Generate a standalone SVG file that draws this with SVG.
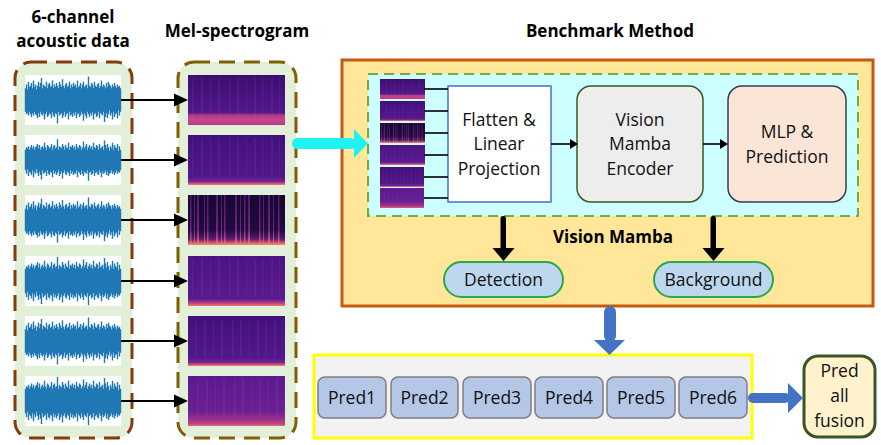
<svg xmlns="http://www.w3.org/2000/svg" xmlns:xlink="http://www.w3.org/1999/xlink" width="881" height="445" viewBox="0 0 881 445">
<style>
.title{font-family:"Open Sans","Liberation Sans",sans-serif;font-weight:bold;font-size:17px;fill:#000;text-anchor:middle}
.lbl{font-family:"Open Sans","Liberation Sans",sans-serif;font-size:17.5px;fill:#111;text-anchor:middle}
.wave{fill:none;stroke:#1f77b4;stroke-width:1.4}
.panel{fill:#fff}
.conn{stroke:#000;stroke-width:2;fill:none}
.thin{stroke:#000;stroke-width:1.6;fill:none}
.head{fill:#000}
.pred rect{fill:#b4c7e7;stroke:#7f7f7f;stroke-width:1.5}
.pill{fill:#bdd7ee;stroke:#2aa84a;stroke-width:2}
.faint{fill:#c070c8;opacity:0.1}
</style>
<defs>
<linearGradient id="g1" x1="0" y1="0" x2="0" y2="1">
<stop offset="0" stop-color="#3d0e6e"/><stop offset="0.6" stop-color="#4d1589"/><stop offset="0.76" stop-color="#56188b"/><stop offset="0.8" stop-color="#b03a8a"/><stop offset="0.9" stop-color="#c8468b"/><stop offset="1" stop-color="#b23b88"/>
</linearGradient>
<linearGradient id="g2" x1="0" y1="0" x2="0" y2="1">
<stop offset="0" stop-color="#42107a"/><stop offset="0.84" stop-color="#51188c"/><stop offset="0.93" stop-color="#7a2590"/><stop offset="0.97" stop-color="#d0507a"/><stop offset="1" stop-color="#f7845c"/>
</linearGradient>
<linearGradient id="g3" x1="0" y1="0" x2="0" y2="1">
<stop offset="0" stop-color="#16082f"/><stop offset="0.7" stop-color="#200b42"/><stop offset="0.88" stop-color="#5a1a70"/><stop offset="0.95" stop-color="#d0506f"/><stop offset="1" stop-color="#fa9060"/>
</linearGradient>
<linearGradient id="g4" x1="0" y1="0" x2="0" y2="1">
<stop offset="0" stop-color="#4a1482"/><stop offset="0.86" stop-color="#5a1a90"/><stop offset="0.94" stop-color="#b8407f"/><stop offset="1" stop-color="#f07a62"/>
</linearGradient>
<linearGradient id="g6" x1="0" y1="0" x2="0" y2="1">
<stop offset="0" stop-color="#5a1a90"/><stop offset="0.7" stop-color="#6a2092"/><stop offset="0.86" stop-color="#9a3090"/><stop offset="0.95" stop-color="#c0447f"/><stop offset="1" stop-color="#e06a6a"/>
</linearGradient>
<linearGradient id="gs" x1="0" y1="0" x2="0" y2="1">
<stop offset="0" stop-color="#5b1d7e"/><stop offset="0.7" stop-color="#8a2a88"/><stop offset="1" stop-color="#f08a68"/>
</linearGradient>
<g id="fst">
<rect class="faint" x="4" y="3" width="1.5" height="38"/><rect class="faint" x="13" y="3" width="2" height="38"/><rect class="faint" x="22" y="3" width="1" height="38"/><rect class="faint" x="30" y="3" width="2" height="38"/><rect class="faint" x="41" y="3" width="1.5" height="38"/><rect class="faint" x="49" y="3" width="2" height="38"/><rect class="faint" x="58" y="3" width="1" height="38"/><rect class="faint" x="66" y="3" width="2" height="38"/><rect class="faint" x="74" y="3" width="1.5" height="38"/><rect class="faint" x="83" y="3" width="2" height="38"/><rect class="faint" x="91" y="3" width="1" height="38"/>
</g>
<symbol id="s1" viewBox="0 0 97 50" preserveAspectRatio="none"><rect width="97" height="50" fill="url(#g1)"/><use xlink:href="#fst"/></symbol>
<symbol id="s2" viewBox="0 0 97 50" preserveAspectRatio="none"><rect width="97" height="50" fill="url(#g2)"/><use xlink:href="#fst"/></symbol>
<symbol id="s3" viewBox="0 0 97 50" preserveAspectRatio="none"><rect width="97" height="50" fill="url(#g3)"/>
<g fill="url(#gs)" opacity="0.8"><rect x="2" y="0" width="1.5" height="50"/><rect x="6" y="0" width="1" height="50"/><rect x="9" y="0" width="2" height="50"/><rect x="16" y="0" width="1" height="50"/><rect x="19" y="0" width="1.5" height="50"/><rect x="28" y="0" width="2" height="50"/><rect x="33" y="0" width="1" height="50"/><rect x="36" y="0" width="1.5" height="50"/><rect x="47" y="0" width="2" height="50"/><rect x="52" y="0" width="1" height="50"/><rect x="56" y="0" width="1.5" height="50"/><rect x="60" y="0" width="2" height="50"/><rect x="71" y="0" width="1.5" height="50"/><rect x="75" y="0" width="1" height="50"/><rect x="80" y="0" width="2" height="50"/><rect x="85" y="0" width="1" height="50"/><rect x="90" y="0" width="1.5" height="50"/></g></symbol>
<symbol id="s4" viewBox="0 0 97 50" preserveAspectRatio="none"><rect width="97" height="50" fill="url(#g4)"/><use xlink:href="#fst"/></symbol>
<symbol id="s5" viewBox="0 0 97 50" preserveAspectRatio="none"><rect width="97" height="50" fill="url(#g2)"/><use xlink:href="#fst" x="3"/></symbol>
<symbol id="s6" viewBox="0 0 97 50" preserveAspectRatio="none"><rect width="97" height="50" fill="url(#g6)"/><use xlink:href="#fst" x="5"/></symbol>
<path id="wv" class="wave" d="M0 16v18M1 13v23M2 17v18M3 11v26M4 15v19M5 14v22M6 12v26M7 16v19M8 10v27M9 15v19M10 13v23M11 17v20M12 14v25M13 11v24M14 15v23M15 12v22M16 8v28M17 16v21M18 13v22M19 14v26M20 15v21M21 11v23M22 16v22M23 13v24M24 12v23M25 15v21M26 14v25M27 10v24M28 16v21M29 13v25M30 15v20M31 12v24M32 14v29M33 16v18M34 11v26M35 13v23M36 15v20M37 9v30M38 14v23M39 16v18M40 13v25M41 12v24M42 15v20M43 14v26M44 11v23M45 16v21M46 13v23M47 15v23M48 12v23M49 14v23M50 13v21M51 16v23M52 10v26M53 15v20M54 14v24M55 12v25M56 16v18M57 13v23M58 11v30M59 15v20M60 14v23M61 13v26M62 16v18M63 7v29M64 14v24M65 15v20M66 12v25M67 13v21M68 16v24M69 11v25M70 14v21M71 15v23M72 13v24M73 12v22M74 16v23M75 14v21M76 10v26M77 15v22M78 13v21M79 14v28M80 16v22M81 12v23M82 15v24M83 11v25M84 13v20M85 14v23M86 16v19M87 13v27M88 15v19M89 12v26M90 14v22M91 16v19M92 13v26M93 15v18M94 14v23M95 16v18"/>
</defs>

<g id="titles">
<text class="title" x="73" y="23">6-channel</text>
<text class="title" x="73" y="47">acoustic data</text>
<text class="title" x="237" y="37">Mel-spectrogram</text>
<text class="title" x="610" y="37">Benchmark Method</text>
</g>

<g id="acoustic-data">
<rect x="15" y="62" width="117" height="376" rx="16" fill="#e2efd9" stroke="#843c0c" stroke-width="3" stroke-dasharray="16 9"/>
<rect class="panel" x="25" y="75" width="96" height="50"/>
<rect class="panel" x="25" y="135" width="96" height="50"/>
<rect class="panel" x="25" y="195" width="96" height="50"/>
<rect class="panel" x="25" y="256" width="96" height="50"/>
<rect class="panel" x="25" y="316" width="96" height="50"/>
<rect class="panel" x="25" y="376" width="96" height="50"/>
<use xlink:href="#wv" transform="translate(25.5,100) scale(1,1.3) translate(0,-25)"/>
<use xlink:href="#wv" transform="translate(120.5,160) scale(-1,1.15) translate(0,-25)"/>
<use xlink:href="#wv" transform="translate(25.5,220) scale(1,1.25) translate(0,-25)"/>
<use xlink:href="#wv" transform="translate(120.5,281) scale(-1,1.35) translate(0,-25)"/>
<use xlink:href="#wv" transform="translate(25.5,341) scale(1,1.3) translate(0,-25)"/>
<use xlink:href="#wv" transform="translate(120.5,401) scale(-1,1.35) translate(0,-25)"/>
</g>

<g id="mel-spectrogram">
<rect x="178" y="62" width="118" height="376" rx="16" fill="#e2efd9" stroke="#7f6000" stroke-width="3" stroke-dasharray="16 9"/>
<use xlink:href="#s1" x="188" y="75" width="97" height="50"/>
<use xlink:href="#s2" x="188" y="135" width="97" height="50"/>
<use xlink:href="#s3" x="188" y="195" width="97" height="50"/>
<use xlink:href="#s4" x="188" y="256" width="97" height="50"/>
<use xlink:href="#s5" x="188" y="316" width="97" height="50"/>
<use xlink:href="#s6" x="188" y="376" width="97" height="50"/>
</g>

<g id="benchmark-method">
<rect x="342" y="60" width="531" height="246" fill="#ffe699" stroke="#c55a11" stroke-width="3"/>
<rect x="368" y="74" width="490" height="142" fill="#ccffff" stroke="#70ad47" stroke-width="2" stroke-dasharray="10 6"/>
<text class="title" x="613" y="243">Vision Mamba</text>
</g>

<g id="patches">
<use xlink:href="#s1" x="380" y="79" width="45" height="20"/>
<use xlink:href="#s2" x="380" y="101" width="45" height="20"/>
<use xlink:href="#s3" x="380" y="123" width="45" height="20"/>
<use xlink:href="#s4" x="380" y="145" width="45" height="20"/>
<use xlink:href="#s5" x="380" y="167" width="44" height="20"/>
<use xlink:href="#s6" x="380" y="188" width="44" height="20"/>
</g>

<g id="flatten">
<rect x="448" y="86" width="103" height="116" fill="#fff" stroke="#4472c4" stroke-width="1.5"/>
<text class="lbl" x="499" y="126">Flatten &amp;</text>
<text class="lbl" x="499" y="150">Linear</text>
<text class="lbl" x="499" y="175">Projection</text>
</g>

<g id="encoder">
<rect x="577" y="86" width="126" height="116" rx="14" fill="#ededed" stroke="#385723" stroke-width="1.5"/>
<text class="lbl" x="640" y="126">Vision</text>
<text class="lbl" x="640" y="150">Mamba</text>
<text class="lbl" x="640" y="175">Encoder</text>
</g>

<g id="mlp">
<rect x="728" y="86" width="118" height="116" rx="14" fill="#fbe5d6" stroke="#333f50" stroke-width="1.5"/>
<text class="lbl" x="787" y="138">MLP &amp;</text>
<text class="lbl" x="787" y="163">Prediction</text>
</g>

<g id="detection">
<rect class="pill" x="444" y="262" width="119" height="35" rx="17.5"/>
<text class="lbl" x="503.5" y="286">Detection</text>
</g>
<g id="background">
<rect class="pill" x="654" y="262" width="119" height="35" rx="17.5"/>
<text class="lbl" x="713.5" y="286">Background</text>
</g>

<g id="predictions">
<rect x="314" y="355" width="438" height="83" fill="#f2f2f2" stroke="#ffff00" stroke-width="3"/>
<g class="pred">
<rect x="318" y="377" width="68" height="41" rx="7"/>
<rect x="391" y="377" width="67" height="41" rx="7"/>
<rect x="463" y="377" width="68" height="41" rx="7"/>
<rect x="535" y="377" width="68" height="41" rx="7"/>
<rect x="607" y="377" width="68" height="41" rx="7"/>
<rect x="679" y="377" width="68" height="41" rx="7"/>
</g>
<text class="lbl" x="352" y="404">Pred1</text>
<text class="lbl" x="424.5" y="404">Pred2</text>
<text class="lbl" x="497" y="404">Pred3</text>
<text class="lbl" x="569" y="404">Pred4</text>
<text class="lbl" x="641" y="404">Pred5</text>
<text class="lbl" x="713" y="404">Pred6</text>
</g>

<g id="fusion">
<rect x="804" y="356" width="71" height="81" rx="14" fill="#fff2cc" stroke="#385723" stroke-width="3"/>
<text class="lbl" x="839.5" y="377">Pred</text>
<text class="lbl" x="839.5" y="402">all</text>
<text class="lbl" x="839.5" y="427">fusion</text>
</g>

<g id="connectors">
<g>
<line class="conn" x1="121" y1="100" x2="176" y2="100"/><polygon class="head" points="174,93.5 188,100 174,106.5"/>
<line class="conn" x1="121" y1="160" x2="176" y2="160"/><polygon class="head" points="174,153.5 188,160 174,166.5"/>
<line class="conn" x1="121" y1="220" x2="176" y2="220"/><polygon class="head" points="174,213.5 188,220 174,226.5"/>
<line class="conn" x1="121" y1="281" x2="176" y2="281"/><polygon class="head" points="174,274.5 188,281 174,287.5"/>
<line class="conn" x1="121" y1="341" x2="176" y2="341"/><polygon class="head" points="174,334.5 188,341 174,347.5"/>
<line class="conn" x1="121" y1="401" x2="176" y2="401"/><polygon class="head" points="174,394.5 188,401 174,407.5"/>
</g>
<g fill="#1ff2f2">
<rect x="292" y="138" width="64" height="11" rx="5.5"/>
<polygon points="354,129 368,143.5 354,158"/>
</g>
<g>
<line class="thin" x1="424" y1="89" x2="448" y2="89"/>
<line class="thin" x1="424" y1="111" x2="448" y2="111"/>
<line class="thin" x1="424" y1="133" x2="448" y2="133"/>
<line class="thin" x1="424" y1="155" x2="448" y2="155"/>
<line class="thin" x1="424" y1="177" x2="448" y2="177"/>
<line class="thin" x1="424" y1="198" x2="448" y2="198"/>
</g>
<line class="thin" x1="551" y1="144" x2="571" y2="144"/><polygon class="head" points="570,139 578,144 570,149"/>
<line class="thin" x1="703" y1="144" x2="721" y2="144"/><polygon class="head" points="720,139 728,144 720,149"/>
<g>
<rect x="500.5" y="216" width="5.5" height="34" rx="2.5" fill="#000"/><polygon class="head" points="492.5,248 514.5,248 503.5,261"/>
<rect x="710.5" y="216" width="5.5" height="34" rx="2.5" fill="#000"/><polygon class="head" points="702.5,248 724.5,248 713.5,261"/>
</g>
<g fill="#4472c4">
<rect x="604" y="306" width="12" height="36" rx="6"/>
<polygon points="594,340 625,340 609.5,355"/>
<rect x="748" y="393" width="42" height="10" rx="5"/>
<polygon points="788,383 788,413 803,398"/>
</g>
</g>
</svg>
